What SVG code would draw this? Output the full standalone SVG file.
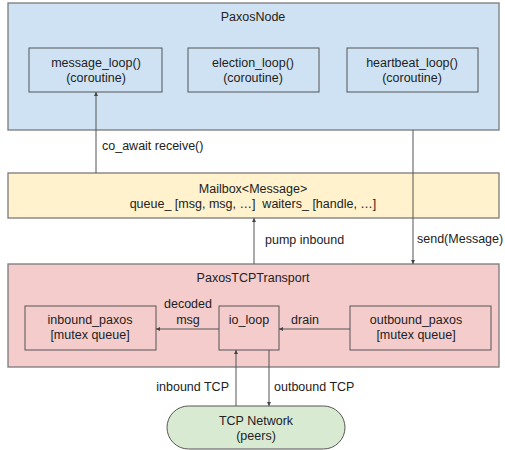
<svg xmlns="http://www.w3.org/2000/svg" width="505" height="450" viewBox="0 0 505 450">
<style>
text{font-family:"Liberation Sans",Arial,sans-serif;font-size:12.5px;fill:#222}
.c{text-anchor:middle}
.outer{stroke:#7a7a7a;stroke-width:1.3}
.inner{fill:none;stroke:#555;stroke-width:1}
.edge{stroke:#555;stroke-width:1;fill:none;marker-end:url(#ah)}
</style>
<defs>
<marker id="ah" viewBox="0 0 6 6" refX="6" refY="3" markerWidth="4" markerHeight="4" orient="auto"><path d="M0,0 L6,3 L0,6 z" fill="#444"/></marker>
</defs>
<g id="paxosnode">
<rect class="outer" x="8" y="3" width="491" height="127" fill="#cfe2f3"/>
<text class="c" x="253" y="21">PaxosNode</text>
</g>
<g id="message_loop">
<rect class="inner" x="29" y="48" width="133" height="44"/>
<text class="c" x="96" y="67">message_loop()</text>
<text class="c" x="96" y="82">(coroutine)</text>
</g>
<g id="election_loop">
<rect class="inner" x="188" y="48" width="131" height="44"/>
<text class="c" x="253" y="67">election_loop()</text>
<text class="c" x="253" y="82">(coroutine)</text>
</g>
<g id="heartbeat_loop">
<rect class="inner" x="347" y="48" width="131" height="44"/>
<text class="c" x="412" y="67">heartbeat_loop()</text>
<text class="c" x="412" y="82">(coroutine)</text>
</g>
<g id="mailbox">
<rect class="outer" x="8" y="173" width="491" height="45" fill="#fff2cc"/>
<text class="c" x="253" y="193">Mailbox&lt;Message&gt;</text>
<text class="c" x="253" y="208">queue_ [msg, msg, …]&#160; waiters_ [handle, …]</text>
</g>
<g id="transport">
<rect class="outer" x="8" y="264" width="491" height="103" fill="#f4cccc"/>
<text class="c" x="253" y="282">PaxosTCPTransport</text>
</g>
<g id="inbound_paxos">
<rect class="inner" x="25" y="306" width="131" height="44"/>
<text class="c" x="90" y="324">inbound_paxos</text>
<text class="c" x="90" y="339">[mutex queue]</text>
</g>
<g id="io_loop">
<rect class="inner" x="219" y="306" width="60" height="44"/>
<text class="c" x="249" y="324">io_loop</text>
</g>
<g id="outbound_paxos">
<rect class="inner" x="350" y="306" width="141" height="44"/>
<text class="c" x="416" y="324">outbound_paxos</text>
<text class="c" x="416" y="339">[mutex queue]</text>
</g>
<g id="tcp_network">
<rect x="167" y="406" width="178" height="43" rx="21.5" ry="21.5" fill="#d9ead3" stroke="#555" stroke-width="1"/>
<text class="c" x="256" y="425">TCP Network</text>
<text class="c" x="256" y="440">(peers)</text>
</g>
<g id="connectors">
<line class="edge" x1="96" y1="173" x2="96" y2="92"/>
<text x="102" y="150">co_await receive()</text>
<line class="edge" x1="413" y1="130" x2="413" y2="264"/>
<text x="417" y="243">send(Message)</text>
<line class="edge" x1="254" y1="264" x2="254" y2="218"/>
<text x="265" y="244">pump inbound</text>
<line class="edge" x1="219" y1="329" x2="156" y2="329"/>
<text class="c" x="188" y="308">decoded</text>
<text class="c" x="188" y="324">msg</text>
<line class="edge" x1="350" y1="329" x2="279" y2="329"/>
<text class="c" x="305" y="324">drain</text>
<line class="edge" x1="236" y1="406" x2="236" y2="350"/>
<text x="229" y="391" text-anchor="end">inbound TCP</text>
<line class="edge" x1="269" y1="350" x2="269" y2="406"/>
<text x="274" y="391">outbound TCP</text>
</g>
</svg>
